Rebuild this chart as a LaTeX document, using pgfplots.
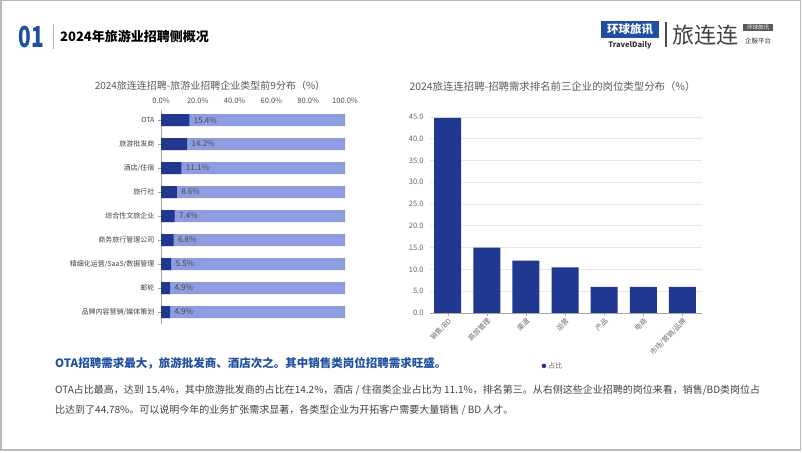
\documentclass[border=0pt]{standalone}
\usepackage{pgfplots}
\pgfplotsset{compat=1.18}
\usepackage{fontspec}
\setmainfont{Noto Sans CJK SC}
\definecolor{navy}{HTML}{213890}
\definecolor{lightbar}{HTML}{8D9BDF}
\definecolor{brandblue}{HTML}{1F4FA0}
\definecolor{txtgray}{HTML}{595959}
\definecolor{bodygray}{HTML}{404040}
\begin{document}
\begin{tikzpicture}
\path[use as bounding box] (0pt,0pt) rectangle (802pt,452pt);
\draw[gray!55, line width=1.5pt] (0.75pt,2pt) rectangle (800.5pt,451.25pt);
% header
\node[font=\fontsize{29}{29}\selectfont\bfseries, text=brandblue, xscale=0.72, inner sep=0pt] at (31pt,415pt) {01};
\draw[gray!60, line width=0.8pt] (53pt,403pt) -- (53pt,428pt);
\node[anchor=west, font=\fontsize{13}{14}\selectfont\bfseries, inner sep=0pt] at (60pt,415pt) {2024年旅游业招聘侧概况};
% logo
\fill[brandblue] (601pt,414pt) rectangle (659pt,431pt);
\node[font=\fontsize{11.5}{12}\selectfont\bfseries, text=white, inner sep=0pt] at (630pt,422.5pt) {环球旅讯};
\node[font=\fontsize{7.5}{8}\selectfont\bfseries, text=black!80, inner sep=0pt] at (630pt,407pt) {TravelDaily};
\draw[black!70, line width=1.2pt] (666pt,405pt) -- (666pt,430pt);
\node[font=\fontsize{22}{23}\selectfont, text=black!75, inner sep=0pt] at (705.5pt,417pt) {旅连连};
\fill[black!65] (743pt,420.5pt) rectangle (773pt,428pt);
\node[font=\fontsize{5.5}{5.5}\selectfont, text=white, inner sep=0pt] at (758pt,424.3pt) {环球旅讯};
\node[font=\fontsize{6.5}{6.5}\selectfont, text=black!80, inner sep=0pt] at (758pt,410.5pt) {企服平台};
% chart titles
\node[font=\fontsize{10}{11}\selectfont, text=txtgray, inner sep=0pt] at (210pt,366pt) {2024旅连连招聘-旅游业招聘企业类型前9分布（\%）};
\node[font=\fontsize{10.4}{11}\selectfont, text=txtgray, inner sep=0pt] at (552.5pt,365pt) {2024旅连连招聘-招聘需求排名前三企业的岗位类型分布（\%）};
% left chart
\begin{axis}[
  at={(161pt,128pt)}, anchor=south west, scale only axis,
  width=184pt, height=214pt,
  xbar, bar width=12pt, bar shift=0pt,
  xmin=0, xmax=100, ymin=-0.5, ymax=8.42,
  axis x line*=top, axis y line*=left,
  x axis line style={draw=none},
  xticklabel pos=upper,
  xtick={0,20,40,60,80,100},
  xticklabels={0.0\%,20.0\%,40.0\%,60.0\%,80.0\%,100.0\%},
  xtick style={draw=none},
  ytick={0,1,2,3,4,5,6,7,8},
  yticklabels={品牌内容营销/媒体策划,邮轮,精细化运营/SaaS/数据管理,商务旅行管理公司,综合性文旅企业,旅行社,酒店/住宿,旅游批发商,OTA},
  y axis line style={gray!70},
  ytick style={gray!70},
  tick align=outside, major tick length=3pt,
  yticklabel style={font=\fontsize{7}{8}\selectfont, text=black!75},
  xticklabel style={font=\fontsize{7.5}{8}\selectfont, text=black!70},
  clip=false,
]
\addplot[fill=lightbar, draw=none] coordinates {(100,8) (100,7) (100,6) (100,5) (100,4) (100,3) (100,2) (100,1) (100,0)};
\addplot[fill=navy, draw=none,
  nodes near coords={\pgfmathprintnumber[fixed,precision=1,zerofill,assume math mode=true]{\pgfplotspointmeta}\%},
  point meta=x,
  nodes near coords style={font=\fontsize{8}{9}\selectfont, text=black!70, anchor=west, xshift=1pt}]
  coordinates {(15.4,8) (14.2,7) (11.1,6) (8.6,5) (7.4,4) (6.8,3) (5.5,2) (4.9,1) (4.9,0)};
\end{axis}
% right chart
\begin{axis}[
  at={(430pt,139pt)}, anchor=south west, scale only axis,
  width=272pt, height=200.4pt,
  ybar, bar width=27pt,
  xmin=-0.45, xmax=6.5, ymin=0, ymax=46,
  axis x line*=bottom, axis y line*=left,
  y axis line style={draw=none},
  x axis line style={gray!70},
  ytick={0,5,10,15,20,25,30,35,40,45},
  yticklabel style={font=\fontsize{7.5}{8}\selectfont, text=black!60,
    /pgf/number format/.cd, fixed, precision=1, zerofill, assume math mode=true},
  ytick style={draw=none},
  ymajorgrids, grid style={gray!18, line width=0.8pt},
  xtick=data,
  xticklabels={销售/BD,高层管理,渠道,运营,产品,电商,市场/营销/品牌},
  xticklabel style={font=\fontsize{7}{8}\selectfont, text=black!60, rotate=45, anchor=north east, inner sep=1pt},
  xtick style={gray!70}, tick align=outside, major tick length=3pt,
  legend style={at={(0.452,-0.264)}, anchor=center, draw=none, fill=none,
    font=\fontsize{7}{8}\selectfont, text=black!60},
  legend image code/.code={\fill[navy] (0.15cm,0cm) circle (2.3pt);},
  clip=false,
]
\addplot[fill=navy, draw=none] coordinates {(0,44.78) (1,15.0) (2,12.0) (3,10.5) (4,6.0) (5,6.0) (6,6.0)};
\addlegendentry{占比}
\end{axis}
% bottom text
\node[anchor=west, font=\fontsize{11.5}{12}\selectfont\bfseries, text=brandblue, inner sep=0pt] at (55pt,89pt) {OTA招聘需求最大，旅游批发商、酒店次之。其中销售类岗位招聘需求旺盛。};
\node[anchor=west, font=\fontsize{10}{11}\selectfont, text=bodygray, inner sep=0pt] at (55pt,62pt) {OTA占比最高，达到 15.4\%，其中旅游批发商的占比在14.2\%，酒店 / 住宿类企业占比为 11.1\%，排名第三。从右侧这些企业招聘的岗位来看，销售/BD类岗位占};
\node[anchor=west, font=\fontsize{10}{11}\selectfont, text=bodygray, inner sep=0pt] at (55pt,42pt) {比达到了44.78\%。可以说明今年的业务扩张需求显著，各类型企业为开拓客户需要大量销售 / BD 人才。};
\end{tikzpicture}
\end{document}
